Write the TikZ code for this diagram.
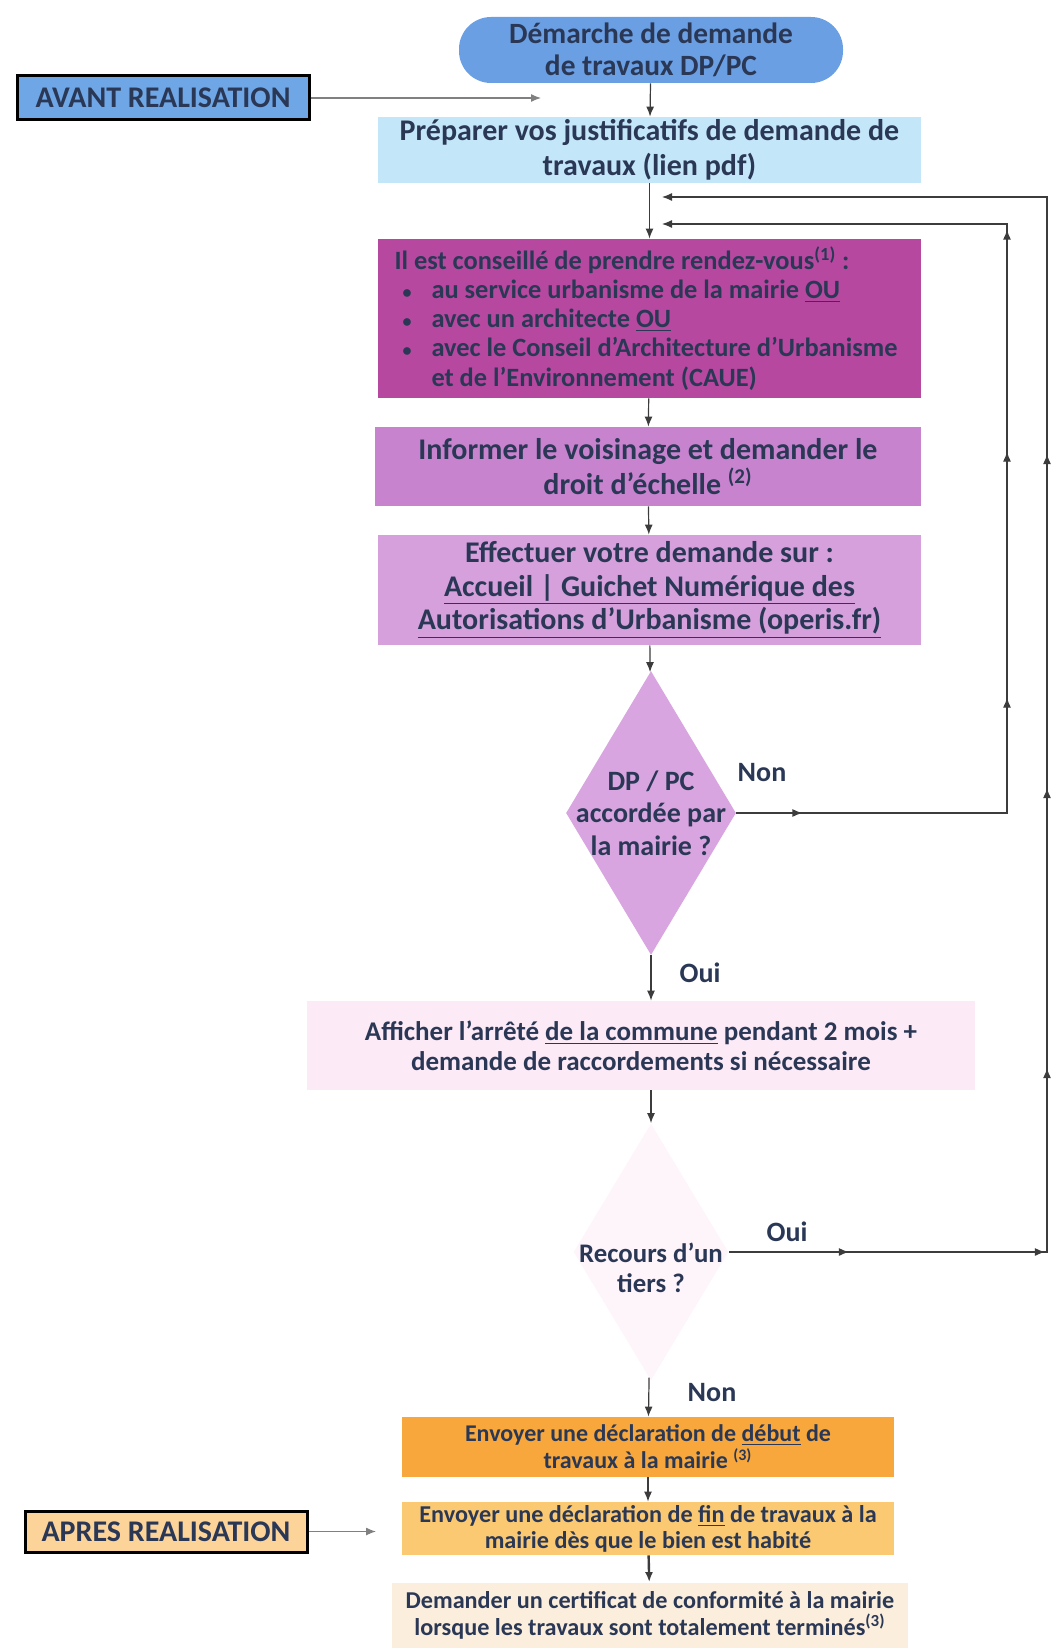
\documentclass[tikz,border=0pt]{standalone}
\usepackage{fontspec}
\setmainfont{Carlito}
\definecolor{fcInk}{HTML}{2A3856}
\definecolor{fcLine}{HTML}{3C3C3C}
\definecolor{fcPill}{HTML}{6B9FE3}
\definecolor{fcAvant}{HTML}{6EA6E6}
\definecolor{fcSky}{HTML}{C4E6F9}
\definecolor{fcMagenta}{HTML}{B6489F}
\definecolor{fcMauve}{HTML}{C883CE}
\definecolor{fcLilac}{HTML}{D5A0DC}
\definecolor{fcDiam}{HTML}{D9A5E0}
\definecolor{fcBlush}{HTML}{FCEAF6}
\definecolor{fcFaint}{HTML}{FEF5FB}
\definecolor{fcOrange}{HTML}{F7A73B}
\definecolor{fcApricot}{HTML}{FBC971}
\definecolor{fcApres}{HTML}{FCD49A}
\definecolor{fcCream}{HTML}{FBEEDC}
\usepackage{tikz}
\usetikzlibrary{calc,positioning,arrows.meta,shapes.geometric,decorations.markings}
\newcommand{\puce}{\makebox[18.5pt][l]{\hspace{4pt}{\fontsize{9}{9}\selectfont\textbullet}}}
\newcommand{\fs}[2]{\bfseries\fontsize{#1}{#2}\selectfont}
\tikzset{
  etape/.style={fill=#1, inner sep=0pt, align=center, text=fcInk},
  bandeau/.style={fill=#1, draw=black, line width=1.5pt, inner sep=0pt, text=fcInk, font=\fs{15}{17}},
  flux/.style={draw=fcLine, line width=0.6pt, -{Latex[length=5pt,width=4pt]}},
  choix/.style={diamond, fill=#1, inner sep=0pt},
  reponse/.style={text=fcInk, font=\fs{14}{16}},
}

\begin{document}
\begin{tikzpicture}[x=0.5pt, y=-0.5pt]
  \useasboundingbox (0,0) rectangle (1050,1648);
  % bandeaux avant / apres
  \node[bandeau=fcAvant, minimum width=146pt, minimum height=22pt] (avant) at (163,98) {AVANT REALISATION};
  \node[bandeau=fcApres, minimum width=141pt, minimum height=20.5pt] (apres) at (166,1531.5) {APRES REALISATION};
  \coordinate (avantfin) at (541,98);
  \coordinate (apresfin) at (376,1531.5);
  \draw[flux, draw=gray] (avant.east) -- (avantfin);
  \draw[flux, draw=gray] (apres.east) -- (apresfin);

  % etapes
  \node[etape=fcPill, rounded corners=16pt, minimum width=192pt, minimum height=33pt, font=\fs{14.7}{16}] (demarche) at (651,50) {Démarche de demande\\de travaux DP/PC};
  \node[etape=fcSky, minimum width=271.5pt, minimum height=33pt, font=\fs{15}{17.5}] (prep) at (649.5,150) {Préparer vos justificatifs de demande de\\travaux (lien pdf)};
  \node[etape=fcMagenta, minimum width=271.5pt, minimum height=79.5pt, text width=255pt, inner xsep=8pt, align=flush left, font=\fs{13.2}{14.6}] (conseil) at (649.5,318.5) {Il est conseillé de prendre rendez-vous\textsuperscript{(1)} :\\
    \puce au service urbanisme de la mairie \underline{OU}\\
    \puce avec un architecte \underline{OU}\\
    \puce avec le Conseil d’Architecture d’Urbanisme\\
    \hspace*{18.5pt}et de l’Environnement (CAUE)};
  \node[etape=fcMauve, minimum width=273pt, minimum height=39.5pt, font=\fs{15}{17.5}] (informer) at (648,466.5) {Informer le voisinage et demander le\\droit d’échelle \textsuperscript{(2)}};
  \node[etape=fcLilac, minimum width=271.5pt, minimum height=55pt, font=\fs{15}{16.8}] (effectuer) at (649.5,590) {Effectuer votre demande sur :\\\underline{Accueil | Guichet Numérique des}\\\underline{Autorisations d’Urbanisme (operis.fr)}};

  % decision DP / PC
  \node[choix=fcDiam, minimum width=85pt, minimum height=142pt] (dp) at (651,813) {};
  \node[etape=none, font=\fs{14}{16.3}] (dptxt) at (dp) {DP / PC\\accordée par\\la mairie ?};

  \node[etape=fcBlush, minimum width=334pt, minimum height=44.5pt, font=\fs{13.5}{14.8}] (afficher) at (641,1045.5) {Afficher l’arrêté \underline{de la commune} pendant 2 mois +\\demande de raccordements si nécessaire};

  % decision recours
  \node[choix=fcFaint, minimum width=77.5pt, minimum height=128.5pt] (rec) at (651,1252) {};
  \node[etape=none, font=\fs{13.4}{15}] (rectxt) at ([yshift=-8pt]rec.center) {Recours d’un\\tiers ?};

  \node[etape=fcOrange, minimum width=246pt, minimum height=30pt, font=\fs{12}{13.5}] (debut) at (648,1447) {Envoyer une déclaration de \underline{début} de\\travaux à la mairie \textsuperscript{(3)}};
  \node[etape=fcApricot, minimum width=246pt, minimum height=26.5pt, font=\fs{12.1}{13}] (fin) at (648,1528.5) {Envoyer une déclaration de \underline{fin} de travaux à la\\mairie dès que le bien est habité};
  \node[etape=fcCream, minimum width=258pt, minimum height=33pt, font=\fs{12.1}{13.2}] (demander) at (650,1615.5) {Demander un certificat de conformité à la mairie\\lorsque les travaux sont totalement terminés\textsuperscript{(3)}};

  % fleches principales
  \draw[flux] (demarche) -- (prep);
  \draw[flux] (prep) -- (conseil);
  \draw[flux] (conseil) -- (informer);
  \draw[flux] (informer) -- (effectuer);
  \draw[flux] (effectuer) -- (dp);
  \draw[flux] (dp) -- (dp |- afficher.north);
  \draw[flux] (afficher.south -| rec) -- (rec);
  \draw[flux] (rec) -- (debut);
  \draw[flux] (debut) -- (fin);
  \draw[flux, line width=1.2pt] (fin) -- (demander);

  % retours
  \coordinate (retour1) at (662,224);
  \coordinate (retour2) at (662,197);
  \draw[flux, postaction={decorate}, decoration={markings,
      mark=at position 33pt with {\arrow{Latex[length=5pt,width=4pt]}},
      mark=at position 193pt with {\arrow{Latex[length=5pt,width=4pt]}},
      mark=at position 316pt with {\arrow{Latex[length=5pt,width=4pt]}},
      mark=at position 427pt with {\arrow{Latex[length=5pt,width=4pt]}}}]
    (dp.east) -| (1007,224) -- (retour1);
  \draw[flux, postaction={decorate}, decoration={markings,
      mark=at position 60pt with {\arrow{Latex[length=5pt,width=4pt]}},
      mark=at position 158pt with {\arrow{Latex[length=5pt,width=4pt]}},
      mark=at position 251pt with {\arrow{Latex[length=5pt,width=4pt]}},
      mark=at position 391pt with {\arrow{Latex[length=5pt,width=4pt]}},
      mark=at position 558pt with {\arrow{Latex[length=5pt,width=4pt]}}}]
    (rec.east) -| (1047,197) -- (retour2);

  % reponses
  \node[reponse] (dpnon) at (762,773) {Non};
  \node[reponse] (dpoui) at (700,973) {Oui};
  \node[reponse] (recoui) at (787,1232) {Oui};
  \node[reponse] (recnon) at (712,1393) {Non};
\end{tikzpicture}
\end{document}
